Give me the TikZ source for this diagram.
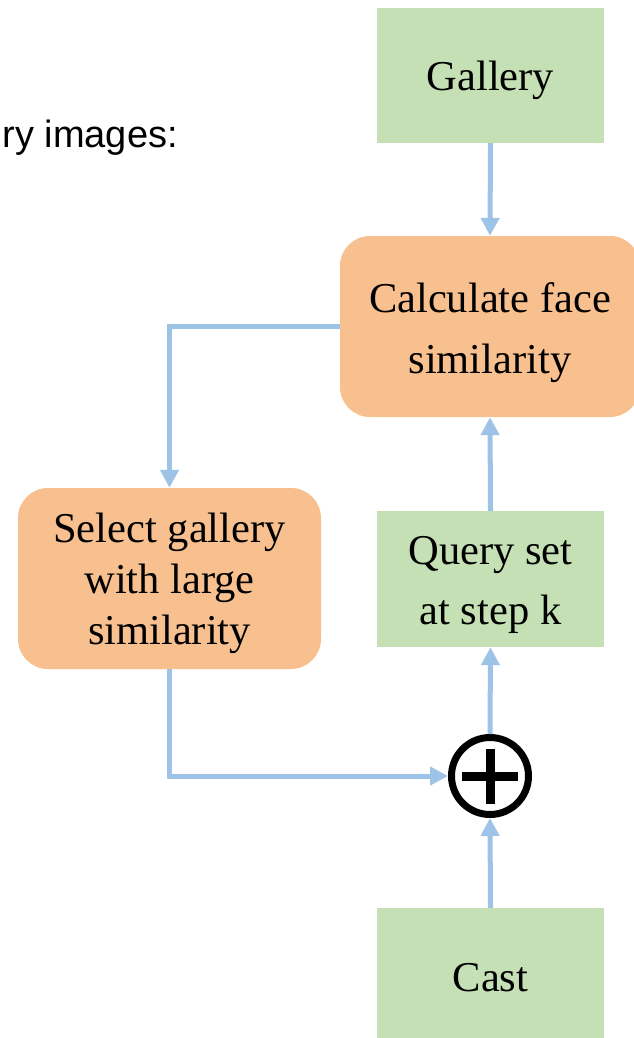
\documentclass[tikz,border=0pt]{standalone}
\usepackage{fontspec}
\setmainfont{Liberation Serif}
\newfontfamily\arialfont{Liberation Sans}
\usetikzlibrary{arrows.meta}
\definecolor{boxgreen}{HTML}{C5E0B4}
\definecolor{boxorange}{HTML}{F8C08F}
\definecolor{linkblue}{HTML}{9DC3E6}
\tikzset{
  greenbox/.style={fill=boxgreen, draw=none, minimum width=227pt, minimum height=135pt, inner sep=0pt},
  orangebox/.style={fill=boxorange, draw=none, rounded corners=30pt, inner sep=0pt},
  boxtext/.style={inner sep=0pt, align=center, font=\fontsize{42.5}{#1}\selectfont},
  arr/.style={draw=linkblue, line width=5pt, -{Triangle[width=18pt,length=18pt]}},
}
\begin{document}
\begin{tikzpicture}[x=1pt,y=-1pt]
\useasboundingbox (0,0) rectangle (633,1038);
\node[anchor=base east, inner sep=0pt, font=\arialfont\fontsize{38}{44}\selectfont] (cap) at (178,147) {ry images:};
\node[greenbox] (gal) at (490.5,75.5) {};
\node[boxtext=51] (galt) at ([yshift=-5pt]gal.center) {Gallery};
\node[orangebox, minimum width=300pt, minimum height=181pt] (calc) at (490,326.5) {};
\node[boxtext=61] (calct) at ([yshift=-6pt]calc.center) {Calculate face\\similarity};
\node[orangebox, minimum width=303pt, minimum height=181pt] (sel) at (169.5,578.5) {};
\node[boxtext=51] (selt) at ([yshift=-5pt]sel.center) {Select gallery\\with large\\similarity};
\node[greenbox, minimum height=136pt] (query) at (490.5,579) {};
\node[boxtext=60] (queryt) at ([yshift=-6pt]query.center) {Query set\\at step k};
\node[greenbox, minimum height=130pt] (cast) at (490.5,973) {};
\node[boxtext=51] (castt) at ([yshift=-5pt]cast.center) {Cast};
\node[circle, draw=black, line width=7pt, minimum size=77pt, inner sep=0pt] (sum) at (490,776) {};
\draw[line width=9pt] (sum.center) ++(-28,0) -- ++(56,0);
\draw[line width=9pt] (sum.center) ++(0,-27.5) -- ++(0,55);
\draw[arr] (gal.south) -- (calc.north);
\draw[arr] (query.north) -- (calc.south);
\draw[arr] (calc.west) -| (sel.north);
\draw[arr] (sel.south) |- (sum.west);
\draw[arr] (sum.north) -- (query.south);
\draw[arr] (cast.north) -- (sum.south);
\end{tikzpicture}
\end{document}
